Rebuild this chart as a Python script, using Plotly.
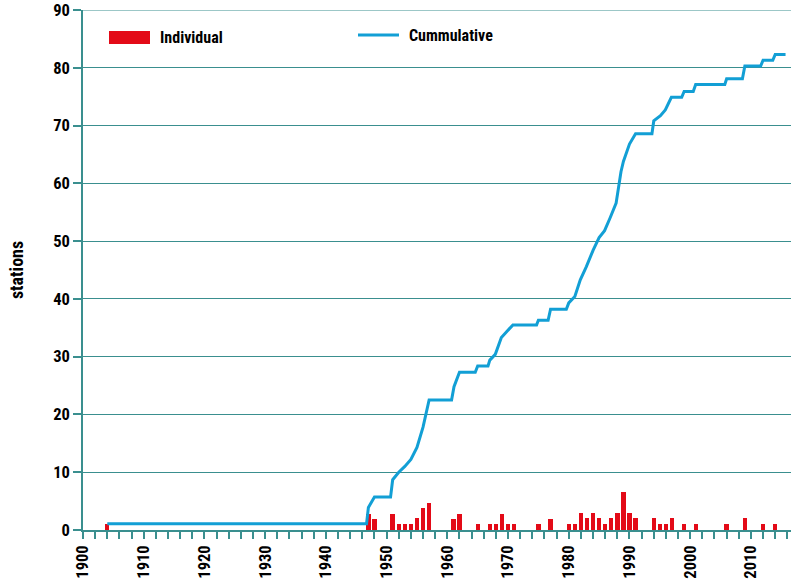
import plotly.graph_objects as go

# Individual stations per year (bars)
ind_years = [1904, 1947, 1948, 1951, 1952, 1953, 1954, 1955, 1956, 1957,
             1961, 1962, 1965, 1967, 1968, 1969, 1970, 1971, 1975, 1977,
             1980, 1981, 1982, 1983, 1984, 1985, 1986, 1987, 1988, 1989,
             1990, 1991, 1994, 1995, 1996, 1997, 1999, 2001, 2006, 2009,
             2012, 2014]
ind_values = [1, 2.7, 1.9, 2.8, 1, 1, 1, 2, 3.8, 4.7,
              1.9, 2.8, 1, 1, 1, 2.8, 1, 1, 1, 1.9,
              1, 1, 2.9, 2, 2.9, 2, 1, 2, 2.9, 6.6,
              2.9, 2, 2, 1, 1, 2, 1, 1, 1, 2,
              1, 1]

# Cumulative line
cum_years = [1904, 1946.7, 1947, 1948, 1950.65, 1951, 1952, 1953, 1954, 1955,
             1956, 1957, 1960.7, 1961.1, 1962, 1964.6, 1965, 1966.7, 1967, 1967.9,
             1968.9, 1970, 1970.8, 1974.7, 1975, 1976.6, 1977, 1979.6, 1980, 1981,
             1981.9, 1982.9, 1984, 1985, 1985.9, 1986.8, 1987.8, 1988.6, 1989, 1990,
             1991, 1993.7, 1994, 1995.1, 1995.9, 1996.9, 1998.6, 1999, 2000.5, 2000.9,
             2005.7, 2006, 2008.6, 2009, 2011.6, 2012, 2013.6, 2014, 2015.7]
cum_values = [1.1, 1.1, 3.9, 5.7, 5.7, 8.7, 10.0, 11.0, 12.2, 14.3,
              17.8, 22.5, 22.5, 24.8, 27.3, 27.3, 28.4, 28.4, 29.4, 30.4,
              33.3, 34.6, 35.5, 35.5, 36.3, 36.3, 38.2, 38.2, 39.3, 40.4,
              43.3, 45.6, 48.4, 50.6, 51.8, 54.0, 56.6, 62.0, 63.8, 66.8,
              68.6, 68.6, 70.8, 71.7, 72.7, 74.9, 74.9, 75.9, 75.9, 77.1,
              77.1, 78.1, 78.1, 80.3, 80.3, 81.3, 81.3, 82.3, 82.3]

y_ticks = [0, 10, 20, 30, 40, 50, 60, 70, 80, 90]
x_ticks = list(range(1900, 2011, 10))

RED = "#e30a17"
BLUE = "#129fd5"
TEAL = "#3a8f8f"
FONT = "Roboto Condensed, Liberation Sans Narrow, Liberation Sans, Arial, sans-serif"

W, H = 799, 585
L, T, PW, PH = 83, 10, 708, 520


def f(size):
    return dict(family=FONT, size=size, color="black", weight="bold")


def px(x):  # page x -> paper fraction
    return (x - L) / PW


def py(y):  # page y -> paper fraction
    return (T + PH - y) / PH


fig = go.Figure()
fig.add_trace(go.Bar(x=ind_years, y=ind_values, width=0.72, marker_color=RED,
                     marker_line_width=0, name="Individual", showlegend=False))
fig.add_trace(go.Scatter(x=cum_years, y=cum_values, mode="lines",
                         line=dict(color=BLUE, width=3), name="Cummulative",
                         showlegend=False))

# top gridline (plotly drops gridlines lying on the plot edge)
fig.add_shape(type="line", xref="paper", yref="y", x0=0, x1=1, y0=y_ticks[-1], y1=y_ticks[-1],
              line=dict(color=TEAL, width=1), layer="below")

# custom legend
fig.add_shape(type="rect", xref="paper", yref="paper",
              x0=px(109), x1=px(150), y0=py(44), y1=py(31),
              fillcolor=RED, line_width=0)
fig.add_annotation(xref="paper", yref="paper", x=px(158), y=py(37),
                   text="Individual", showarrow=False, xanchor="left", yanchor="middle",
                   font=f(16))
fig.add_shape(type="line", xref="paper", yref="paper",
              x0=px(358), x1=px(399), y0=py(35), y1=py(35),
              line=dict(color=BLUE, width=3))
fig.add_annotation(xref="paper", yref="paper", x=px(407), y=py(35),
                   text="Cummulative", showarrow=False, xanchor="left", yanchor="middle",
                   font=f(16))

fig.update_layout(
    width=W, height=H,
    margin=dict(l=L, r=W - L - PW, t=T, b=H - T - PH),
    plot_bgcolor="white", paper_bgcolor="white",
    bargap=0,
    font=f(15),
    xaxis=dict(range=[1900, 2016.6], tickvals=x_ticks, ticktext=[str(v) for v in x_ticks],
               tickangle=-90, ticks="outside", ticklen=7, tickcolor=TEAL, tickwidth=1.5,
               minor=dict(dtick=2, tick0=1900, ticks="outside", ticklen=7, tickcolor=TEAL,
                          tickwidth=1.5),
               showgrid=False, zeroline=False, showline=True, linecolor=TEAL, linewidth=1.5,
               automargin=False, tickfont=f(16.5)),
    yaxis=dict(range=[0, 90], tickvals=y_ticks, ticks="outside", ticklen=8,
               tickcolor=TEAL, tickwidth=1.5, showgrid=True, gridcolor=TEAL, gridwidth=1,
               zeroline=False, showline=True, linecolor=TEAL, linewidth=1.5,
               automargin=False, tickfont=f(16.5), ticklabeloverflow="allow",
               title=dict(text="stations", standoff=25, font=f(18))),
)

# remove the default page margin so the figure fills the window exactly
fig.write_html("out.html", config={"displayModeBar": False},
               post_script="document.body.style.margin='0';")
